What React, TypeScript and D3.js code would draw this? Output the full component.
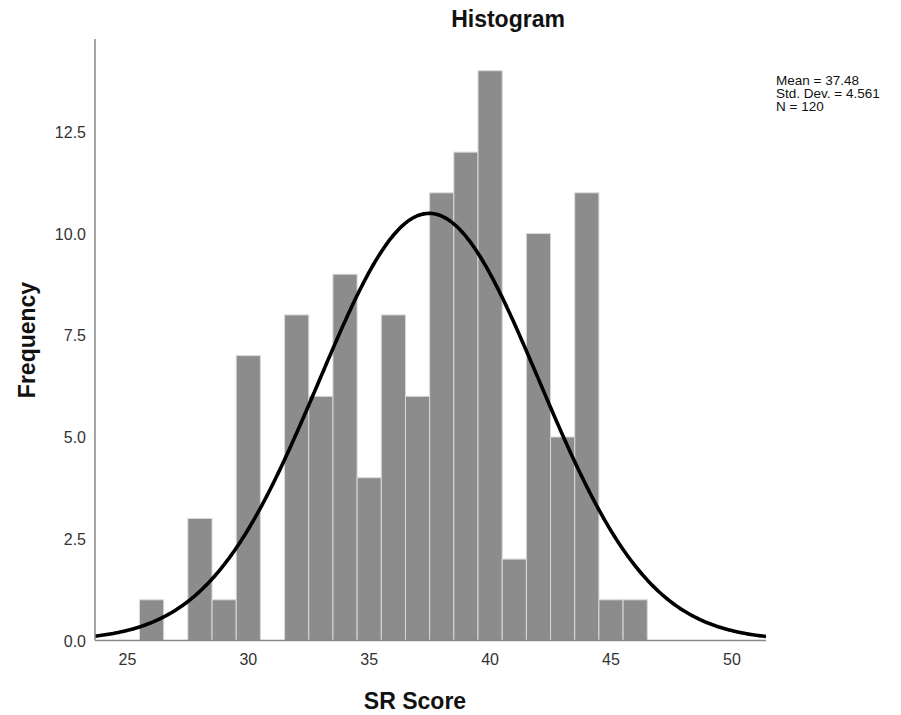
import React from "react";
import * as d3 from "d3";

const binCenters = [26, 27, 28, 29, 30, 31, 32, 33, 34, 35, 36, 37, 38, 39, 40, 41, 42, 43, 44, 45, 46];
const frequencies = [1, 0, 3, 1, 7, 0, 8, 6, 9, 4, 8, 6, 11, 12, 14, 2, 10, 5, 11, 1, 1];
const xTicks = [25, 30, 35, 40, 45, 50];
const yTicks = [0, 2.5, 5, 7.5, 10, 12.5];
const stats = { mean: 37.48, sd: 4.561, n: 120 };
const legendLines = ["Mean = 37.48", "Std. Dev. = 4.561", "N = 120"];

const W = 901;
const H = 715;
const left = 95;
const right = 766;
const top = 39;
const bottom = 640.5;
const font = "'Liberation Sans', Arial, sans-serif";

export default function App() {
  const x = d3.scaleLinear().domain([23.66, 51.41]).range([left, right]);
  const y = d3.scaleLinear().domain([0, 14.78]).range([bottom, top]);

  const curvePts = d3.range(0, 401).map((i) => {
    const v = 23.66 + (i / 400) * (51.41 - 23.66);
    const d =
      (stats.n * 1) / (stats.sd * Math.sqrt(2 * Math.PI)) *
      Math.exp(-0.5 * ((v - stats.mean) / stats.sd) ** 2);
    return [v, d] as [number, number];
  });
  const line = d3
    .line<[number, number]>()
    .x((d) => x(d[0]))
    .y((d) => y(d[1]))
    .curve(d3.curveBasis);

  return (
    <svg
      width={W}
      height={H}
      style={{ position: "absolute", left: 0, top: 0, background: "#fff" }}
    >
      <rect x={0} y={0} width={W} height={H} fill="#fff" />
      {binCenters.map((c, i) =>
        frequencies[i] > 0 ? (
          <rect
            key={c}
            x={x(c - 0.5)}
            y={y(frequencies[i])}
            width={x(c + 0.5) - x(c - 0.5)}
            height={y(0) - y(frequencies[i])}
            fill="#8c8c8c"
            stroke="#d9d9d9"
            strokeWidth={1}
          />
        ) : null
      )}
      <clipPath id="clip">
        <rect x={left} y={top} width={right - left} height={bottom - top} />
      </clipPath>
      <path
        d={line(curvePts) || ""}
        fill="none"
        stroke="#000"
        strokeWidth={3.6}
        clipPath="url(#clip)"
      />
      <line x1={left} x2={left} y1={top} y2={bottom} stroke="#888" strokeWidth={1.5} />
      <line x1={left} x2={right} y1={bottom} y2={bottom} stroke="#888" strokeWidth={1.5} />
      {yTicks.map((t) => (
        <text
          key={t}
          x={left - 9}
          y={y(t) + 6}
          textAnchor="end"
          fontFamily={font}
          fontSize={16}
          fill="#333"
        >
          {d3.format(".1f")(t)}
        </text>
      ))}
      {xTicks.map((t) => (
        <text
          key={t}
          x={x(t)}
          y={665}
          textAnchor="middle"
          fontFamily={font}
          fontSize={16}
          fill="#333"
        >
          {t}
        </text>
      ))}
      <text
        x={508}
        y={27}
        textAnchor="middle"
        fontFamily={font}
        fontSize={23}
        fontWeight="bold"
        fill="#111"
      >
        Histogram
      </text>
      <text
        x={415}
        y={709}
        textAnchor="middle"
        fontFamily={font}
        fontSize={23}
        fontWeight="bold"
        fill="#111"
      >
        SR Score
      </text>
      <text
        transform={`translate(35,340) rotate(-90)`}
        textAnchor="middle"
        fontFamily={font}
        fontSize={23}
        fontWeight="bold"
        fill="#111"
      >
        Frequency
      </text>
      {legendLines.map((s, i) => (
        <text
          key={s}
          x={776}
          y={84.5 + i * 13.3}
          fontFamily={font}
          fontSize={13.5}
          fill="#111"
        >
          {s}
        </text>
      ))}
    </svg>
  );
}
